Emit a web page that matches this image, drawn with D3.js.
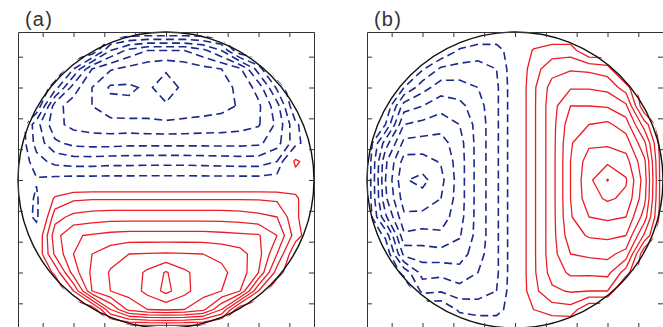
<!DOCTYPE html>
<html>
<head>
<meta charset="utf-8">
<script src="https://cdn.jsdelivr.net/npm/d3@7"></script>
<style>
body { margin: 0; background: #fff; }
svg { display: block; font-family: "Liberation Sans", Arial, sans-serif; }
</style>
</head>
<body>
<svg id="canvas" width="663" height="327"></svg>
<script>
// axis ticks and extent (same for x and y, both panels)
let ticks = [-1, -0.75, -0.5, -0.25, 0, 0.25, 0.5, 0.75, 1]
let extent = [-1.2, 1.2]

// contour levels
let redLevelsA = [1, 2, 3, 4, 5, 6, 7, 8, 9]
let blueLevelsA = [-1, -2, -3, -4, -5, -6, -7]
let redLevelsB = [1, 2, 3, 4, 5, 6, 7, 8, 9]
let blueLevelsB = [-1, -2, -3, -4, -5, -6, -7, -8]

// field values, 17 x 17 grid, top row first
let gridA = [
  [0,0,0,0,0,0,0,0,0,0,0,0,0,0,0,0,0],
  [0,0,0,0,0,-3,-4.3,-5,-5,-5,-4.3,-3,0,0,0,0,0],
  [0,0,0,-2,-5,-5.9,-6.3,-6.6,-6.9,-6.6,-6.3,-6,-5.2,-2.5,0,0,0],
  [0,0,-1.5,-4.5,-6,-7.15,-7.15,-6.85,-7.4,-6.8,-6.6,-6.3,-5.8,-4.6,-1.8,0,0],
  [0,0,-4.6,-5.5,-6,-6.7,-6.8,-6.6,-6.9,-6.6,-6.5,-6.3,-5.9,-5.2,-3.4,0,0],
  [0,-2.6,-4.7,-5.3,-5.5,-5.6,-5.6,-5.7,-5.75,-5.7,-5.6,-5.55,-5.4,-5.1,-3.8,-1.2,0],
  [0,-2.4,-3.8,-4.3,-4.4,-4.4,-4.3,-4.3,-4.3,-4.3,-4.3,-4.3,-4.3,-4.2,-3.4,-1.4,0],
  [0,-1.6,-2.3,-2.5,-2.5,-2.4,-2.4,-2.35,-2.35,-2.35,-2.4,-2.45,-2.5,-2.5,-2,1.3,0],
  [0,-0.9,-0.7,-0.6,-0.6,-0.6,-0.6,-0.6,-0.6,-0.6,-0.6,-0.6,-0.6,-0.6,-0.5,0.3,0],
  [0,-1.2,1.2,1.8,1.9,1.9,1.9,1.9,1.9,1.9,1.9,1.9,1.9,1.9,1.8,1.2,0],
  [0,-1.3,2.6,3.3,3.5,3.6,3.6,3.6,3.6,3.6,3.6,3.6,3.5,3.3,3,1.2,0],
  [0,-0.2,3.6,4.9,5.1,5.3,5.4,5.4,5.4,5.4,5.4,5.3,5.2,5.1,4,1.5,0],
  [0,0,3.2,5,6,6.6,7,7.05,7.1,7.05,7,6.8,6.4,5.4,3,0,0],
  [0,0,1.2,4.5,6.2,7.1,7.4,8.2,9.1,8.2,7.5,7.2,6.6,5,1.5,0,0],
  [0,0,0,2,6,7,7.4,8.3,9.3,8.3,7.4,7,6,2,0,0,0],
  [0,0,0,0,0,4,6.3,7,7.2,7,6.3,4,0,0,0,0,0],
  [0,0,0,0,0,0,0,0,0,0,0,0,0,0,0,0,0]
]

let gridB = [
  [0,0,0,0,0,0,0,0,0,0,0,0,0,0,0,0,0],
  [0,0,0,0,0,-1.1,-1.5,-1.5,-0.2,1.1,1.5,1.5,0,0,0,0,0],
  [0,0,0,-0.9,-2.2,-2.4,-2.4,-2,-0.2,1.6,2.6,2.9,2.8,2.5,0,0,0],
  [0,0,-1,-2.6,-3.5,-3.4,-3,-2.2,-0.2,1.8,3.4,3.9,3.9,3.7,2.5,0,0],
  [0,0,-3.5,-4,-4.6,-4.3,-3.4,-2.2,-0.2,1.8,3.6,5,5,4.9,4.2,0,0],
  [0,-1,-5,-5.3,-5.6,-5,-3.6,-2.2,-0.2,1.8,3.6,5.6,6,6.2,5.5,2.5,0],
  [0,-3.5,-6.3,-6.4,-6.4,-5.4,-3.6,-2.2,-0.2,1.8,3.6,5.9,6.8,6.8,6.5,4.2,0],
  [0,-4.8,-7.4,-7.4,-6.9,-5.5,-3.6,-2.2,-0.2,1.8,3.6,6,7.5,7.8,7.4,5.2,0],
  [0,-5,-7.9,-8.3,-7.3,-5.5,-3.6,-2.2,-0.2,1.8,3.6,6,7.75,9.05,8.1,5.5,0],
  [0,-4.8,-7.5,-7.6,-7,-5.5,-3.6,-2.2,-0.2,1.8,3.6,6,7.6,8.15,7.8,5.3,0],
  [0,-3.8,-6.8,-6.7,-6.5,-5.4,-3.6,-2.2,-0.2,1.8,3.6,5.9,7,7.2,7,4.5,0],
  [0,-1.2,-5.8,-5.6,-5.8,-5.1,-3.6,-2.2,-0.2,1.8,3.6,5.6,6.1,6.2,6,2.8,0],
  [0,0,-4.3,-4.5,-4.6,-4.5,-3.4,-2.2,-0.2,1.8,3.6,5,5.2,5.3,4.6,0,0],
  [0,0,-1.3,-3.4,-3.3,-3.6,-3,-2.2,-0.2,1.8,3.4,4.2,4.2,4.3,2.5,0,0],
  [0,0,0,-2.3,-2.1,-2.6,-2.4,-2,-0.2,1.7,2.8,3.1,3,3,0,0,0],
  [0,0,0,0,0,-1.2,-1.5,-1.5,-0.2,1,1.5,1.6,0,0,0,0,0],
  [0,0,0,0,0,0,0,0,0,0,0,0,0,0,0,0,0]
]

let panels = [
  {id: "a", label: "(a)", left: 18, grid: gridA, red: redLevelsA, blue: blueLevelsA},
  {id: "b", label: "(b)", left: 367, grid: gridB, red: redLevelsB, blue: blueLevelsB}
]

let canvas = d3.select("#canvas")
let size = 296
let frameTop = 32

let x = d3.scaleLinear().domain(extent).range([0, size])
let y = d3.scaleLinear().domain(extent).range([size, 0])

panels.forEach(p => {
  let g = canvas.append("g").attr("transform", `translate(${p.left},${frameTop})`)
  let n = p.grid.length
  // contour coords put grid value k at k + 0.5
  let gx = d3.scaleLinear().domain([0.5, n - 0.5]).range(extent)
  let gy = d3.scaleLinear().domain([0.5, n - 0.5]).range([extent[1], extent[0]])
  let path = d3.geoPath(d3.geoTransform({
    point: function(px, py) { this.stream.point(x(gx(px)), y(gy(py))) }
  }))

  let values = p.grid.flat()
  let r = x(extent[1]) - x(0)

  g.append("clipPath").attr("id", "clip" + p.id)
    .append("circle").attr("cx", x(0)).attr("cy", y(0)).attr("r", r + 2)

  let red = d3.contours().size([n, n]).thresholds(p.red)(values)
  let blue = d3.contours().size([n, n])
    .thresholds(p.blue.map(v => -v))(values.map(v => -v))

  let lines = g.append("g").attr("clip-path", `url(#clip${p.id})`)

  lines.selectAll("path.red").data(red)
    .enter()
    .append("path")
    .attr("class", "red")
    .attr("d", path)
    .attr("fill", "none")
    .attr("stroke", "#ec1c24")
    .attr("stroke-width", 1.3)
    .attr("stroke-linejoin", "round")

  lines.selectAll("path.blue").data(blue)
    .enter()
    .append("path")
    .attr("class", "blue")
    .attr("d", path)
    .attr("fill", "none")
    .attr("stroke", "#1b2a8a")
    .attr("stroke-width", 1.6)
    .attr("stroke-dasharray", "8,4.5")

  g.append("circle")
    .attr("cx", x(0)).attr("cy", y(0)).attr("r", r)
    .attr("fill", "none")
    .attr("stroke", "#111")
    .attr("stroke-width", 1.4)

  // frame with inward ticks
  let axisStyle = a => a.tickValues(ticks).tickSize(-5).tickSizeOuter(0).tickFormat("")
  g.append("g").attr("color", "#333").call(axisStyle(d3.axisTop(x)))
  g.append("g").attr("color", "#333").attr("transform", `translate(0,${size})`).call(axisStyle(d3.axisBottom(x)))
  g.append("g").attr("color", "#333").call(axisStyle(d3.axisLeft(y)))
  g.append("g").attr("color", "#333").attr("transform", `translate(${size},0)`).call(axisStyle(d3.axisRight(y)))

  canvas.append("text")
    .attr("x", p.left + 7)
    .attr("y", 26)
    .attr("font-size", 20)
    .attr("letter-spacing", 1.2)
    .attr("fill", "#333")
    .text(p.label)
})
</script>
</body>
</html>
